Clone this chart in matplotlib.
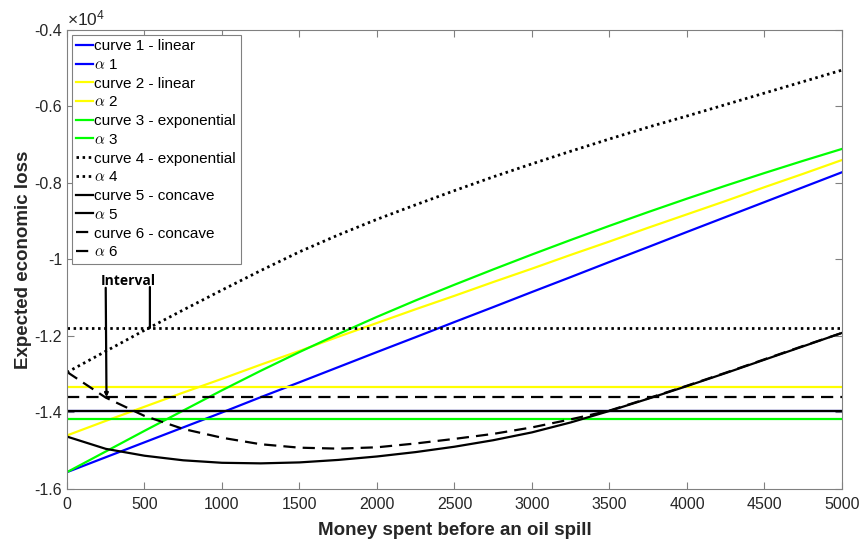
import matplotlib.pyplot as plt
from matplotlib.ticker import FuncFormatter, MultipleLocator

plt.rcParams['font.family'] = ['Liberation Sans', 'DejaVu Sans']
plt.rcParams['mathtext.fontset'] = 'cm'

#====================================================================================================
# data

money = [0, 250, 500, 750, 1000, 1250, 1500, 1750, 2000, 2250, 2500, 2750,
         3000, 3250, 3500, 3750, 4000, 4250, 4500, 4750, 5000]

curve1 = [-15560, -15170, -14780, -14390, -14000, -13600, -13210, -12815, -12420, -12030, -11635, -11245,
          -10850, -10460, -10065, -9675, -9280, -8890, -8500, -8110, -7720]
curve2 = [-14600, -14220, -13850, -13480, -13120, -12750, -12390, -12020, -11660, -11300, -10950, -10590,
          -10240, -9880, -9530, -9170, -8820, -8470, -8110, -7760, -7400]
curve3 = [-15560, -15020, -14480, -13950, -13420, -12910, -12420, -11950, -11500, -11070, -10660, -10260,
          -9870, -9490, -9120, -8760, -8410, -8070, -7740, -7420, -7110]
curve4 = [-12950, -12400, -11850, -11320, -10800, -10290, -9800, -9360, -8950, -8570, -8200, -7840,
          -7500, -7170, -6850, -6540, -6250, -5950, -5650, -5350, -5050]
curve5 = [-14630, -14950, -15130, -15250, -15315, -15330, -15305, -15240, -15150, -15035, -14895, -14725,
          -14520, -14260, -13960, -13640, -13310, -12970, -12620, -12270, -11920]
curve6 = [-12940, -13610, -14090, -14430, -14660, -14830, -14920, -14945, -14910, -14810, -14690, -14560,
          -14390, -14180, -13950, -13630, -13300, -12960, -12610, -12260, -11920]

alphas = [-13960, -13330, -14160, -11790, -13960, -13600]

labels = ["curve 1 - linear", "curve 2 - linear", "curve 3 - exponential",
          "curve 4 - exponential", "curve 5 - concave", "curve 6 - concave"]

#====================================================================================================

def main():
    curves = [curve1, curve2, curve3, curve4, curve5, curve6]
    colors = ["#0000ff", "#ffff00", "#00ff00", "k", "k", "k"]
    widths = [1.6, 1.6, 1.6, 2.0, 1.6, 1.6]
    styles = [dict(linestyle = "-"), dict(linestyle = "-"), dict(linestyle = "-"),
              dict(dashes = (0.9, 1.3)), dict(linestyle = "-"), dict(dashes = (5.5, 3.2))]

    fig = plt.figure(figsize = (8.63, 5.42), dpi = 100)
    axis = fig.add_axes([0.0776, 0.0978, 0.898, 0.8469])

    for i in range(6):
        axis.plot(money, curves[i], color = colors[i], lw = widths[i], label = labels[i], **styles[i])
        axis.plot([money[0], money[-1]], [alphas[i], alphas[i]], color = colors[i], lw = widths[i],
                  label = r"$\alpha$ %d" % (i + 1), **styles[i])

    axis.set_xlim(0, 5000)
    axis.set_ylim(-16000, -4000)
    axis.xaxis.set_major_locator(MultipleLocator(500))
    axis.yaxis.set_major_locator(MultipleLocator(2000))
    axis.yaxis.set_major_formatter(FuncFormatter(lambda v, p: "%g" % (v / 1e4)))
    axis.text(0.0, 1.004, "\u00d7$\\mathregular{10^{4}}$", transform = axis.transAxes, fontsize = 12.5,
              ha = "left", va = "bottom", color = "#262626")

    axis.tick_params(direction = "in", top = True, right = True, length = 5, width = 0.8,
                     colors = "#808080", labelcolor = "#262626", labelsize = 11.5)
    axis.tick_params(axis = "x", pad = 6)
    for spine in axis.spines.values():
        spine.set_color("#808080")
        spine.set_linewidth(0.8)

    axis.set_xlabel("Money spent before an oil spill", fontsize = 13.5, fontweight = "bold",
                    color = "#262626", labelpad = 7)
    axis.set_ylabel("Expected economic loss", fontsize = 13.5, fontweight = "bold", color = "#262626")
    axis.yaxis.set_label_coords(-0.045, 0.5)

    # interval markers
    axis.text(395, -10560, "Interval", ha = "center", va = "center", fontsize = 10,
              fontweight = "bold", family = "Open Sans")
    axis.annotate("", xy = (255, alphas[5]), xytext = (250, -10740),
                  arrowprops = dict(arrowstyle = "-|>", color = "k", lw = 1.6, shrinkA = 0, shrinkB = 0,
                                    mutation_scale = 5))
    axis.annotate("", xy = (535, alphas[3]), xytext = (535, -10720),
                  arrowprops = dict(arrowstyle = "-", color = "k", lw = 1.6, shrinkA = 0, shrinkB = 0))

    leg = axis.legend(loc = "upper left", fontsize = 11, handlelength = 1.1, handletextpad = 0.1,
                      labelspacing = 0.31, borderpad = 0.3, borderaxespad = 0.3, fancybox = False,
                      framealpha = 1)
    leg.get_frame().set_edgecolor("#808080")
    leg.get_frame().set_linewidth(0.8)

    fig.savefig("out.png", dpi = 100)

#====================================================================================================

if __name__ == "__main__":
    main()
